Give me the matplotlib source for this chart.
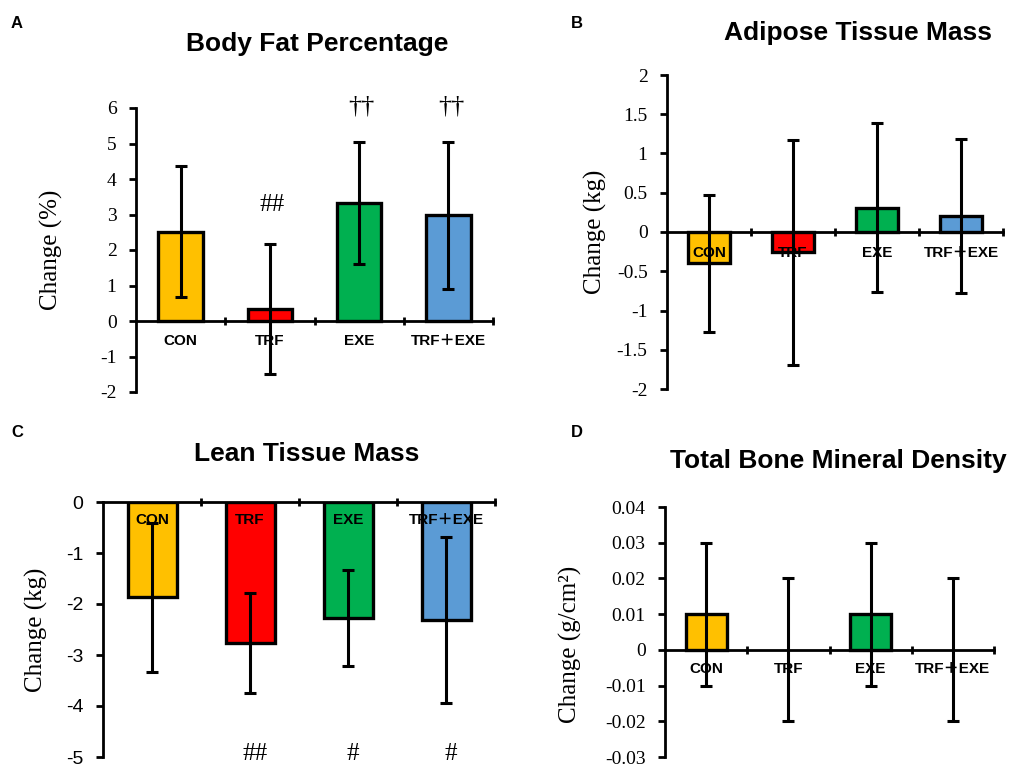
import numpy as np
import matplotlib
matplotlib.use('Agg')
import matplotlib.pyplot as plt

plt.rcParams['axes.unicode_minus'] = False

groups = ['CON', 'TRF', 'EXE', 'TRF＋EXE']
colors = ['#FFC000', '#FF0000', '#00B050', '#5B9BD5']

# A: Body fat percentage
fat_pct = [2.52, 0.33, 3.33, 2.98]
fat_pct_sd = [1.85, 1.83, 1.72, 2.07]
fat_pct_marks = ['', '##', '††', '††']
fat_pct_mark_y = [0, 3.27, 6.05, 6.05]
fat_pct_ticks = [-2, -1, 0, 1, 2, 3, 4, 5, 6]
fat_pct_ticklabels = ['-2', '-1', '0', '1', '2', '3', '4', '5', '6']

# B: Adipose tissue mass
adipose = [-0.40, -0.26, 0.31, 0.20]
adipose_sd = [0.87, 1.43, 1.08, 0.98]
adipose_ticks = [-2, -1.5, -1, -0.5, 0, 0.5, 1, 1.5, 2]
adipose_ticklabels = ['-2', '-1.5', '-1', '-0.5', '0', '0.5', '1', '1.5', '2']

# C: Lean tissue mass
lean = [-1.87, -2.76, -2.28, -2.32]
lean_sd = [1.46, 0.98, 0.94, 1.63]
lean_marks = ['', '##', '#', '#']
lean_mark_y = [0, -4.95, -4.95, -4.95]
lean_ticks = [-5, -4, -3, -2, -1, 0]
lean_ticklabels = ['-5', '-4', '-3', '-2', '-1', '0']

# D: Total bone mineral density
bmd = [0.01, 0.0, 0.01, 0.0]
bmd_sd = [0.02, 0.02, 0.02, 0.02]
bmd_ticks = [-0.03, -0.02, -0.01, 0, 0.01, 0.02, 0.03, 0.04]
bmd_ticklabels = ['-0.03', '-0.02', '-0.01', '0', '0.01', '0.02', '0.03', '0.04']

W, H = 1010, 764
fig = plt.figure(figsize=(W / 100, H / 100), dpi=100)

def rect(l, r, t, b):
    return [l / W, 1 - b / H, (r - l) / W, (b - t) / H]

SANS = ['Liberation Sans', 'Noto Sans CJK SC', 'DejaVu Sans']
SERIF = ['Liberation Serif', 'DejaVu Serif']


def panel(ax, vals, sd, ylim, ticks, ticklabels, ylabel, label_y, tick_font,
          tick_size, ylab_x, ylab_y=0.5):
    x = np.arange(len(groups))
    lws = [2.4 if v != 0 else 0 for v in vals]
    ax.bar(x, vals, width=0.5, color=colors, edgecolor='black', linewidth=lws,
           zorder=2)
    for xi, g in zip(x, groups):
        ax.text(xi, label_y, g, ha='center', va='center', fontsize=11,
                fontweight='bold', family=SANS, zorder=3)
    ax.errorbar(x, vals, yerr=sd, fmt='none', ecolor='black', elinewidth=2.2,
                capsize=4, capthick=2.2, zorder=4)
    ax.set_xlim(-0.5, 3.5)
    ax.set_ylim(ylim)
    for s in ['top', 'right']:
        ax.spines[s].set_visible(False)
    ax.spines['bottom'].set_position(('data', 0))
    ax.spines['bottom'].set_linewidth(2)
    ax.spines['left'].set_linewidth(2)
    ax.set_xticks([0.5, 1.5, 2.5, 3.5])
    ax.tick_params(axis='x', direction='inout', length=6, width=2,
                   labelbottom=False)
    ax.set_yticks(ticks)
    ax.set_yticklabels(ticklabels, family=tick_font, fontsize=tick_size)
    ax.tick_params(axis='y', direction='out', length=5, width=2, pad=9)
    ax.set_ylabel(ylabel, family=SERIF, fontsize=18)
    ax.yaxis.set_label_coords(ylab_x, ylab_y)
    ax.patch.set_alpha(0)


axA = fig.add_axes(rect(136, 493, 108, 392))
panel(axA, fat_pct, fat_pct_sd, (-2, 6), fat_pct_ticks, fat_pct_ticklabels,
      'Change (%)', -0.55, SERIF, 14, -0.204)
for xi, (m, my) in enumerate(zip(fat_pct_marks, fat_pct_mark_y)):
    if m:
        axA.text(xi + 0.03, my, m, ha='center', va='center',
                 fontsize=19 if '†' in m else 18, family=SERIF, clip_on=False)

axB = fig.add_axes(rect(667, 1003, 75, 389))
panel(axB, adipose, adipose_sd, (-2, 2), adipose_ticks, adipose_ticklabels,
      'Change (kg)', -0.27, SERIF, 14, -0.179)

axC = fig.add_axes(rect(103, 495, 502, 757))
panel(axC, lean, lean_sd, (-5, 0), lean_ticks, lean_ticklabels,
      'Change (kg)', -0.35, SANS, 14, -0.140)
for xi, (m, my) in enumerate(zip(lean_marks, lean_mark_y)):
    if m:
        axC.text(xi + 0.05, my, m, ha='center', va='center', fontsize=18,
                 family=SERIF, clip_on=False)

axD = fig.add_axes(rect(665, 994, 507, 757))
panel(axD, bmd, bmd_sd, (-0.03, 0.04), bmd_ticks, bmd_ticklabels,
      'Change (g/cm²)', -0.0054, SERIF, 14, -0.252, 0.45)

titles = [('Body Fat Percentage', 317, 44), ('Adipose Tissue Mass', 858, 33),
          ('Lean Tissue Mass', 307, 454), ('Total Bone Mineral Density', 838, 461)]
for t, x, y in titles:
    fig.text(x / W, 1 - y / H, t, ha='center', va='center', fontsize=19,
             fontweight='bold', family=SANS)

letters = [('A', 17, 24), ('B', 577, 24), ('C', 17, 432), ('D', 577, 432)]
for t, x, y in letters:
    fig.text(x / W, 1 - y / H, t, ha='center', va='center', fontsize=12,
             fontweight='bold', family=SANS)

fig.savefig('out.png', dpi=100)
